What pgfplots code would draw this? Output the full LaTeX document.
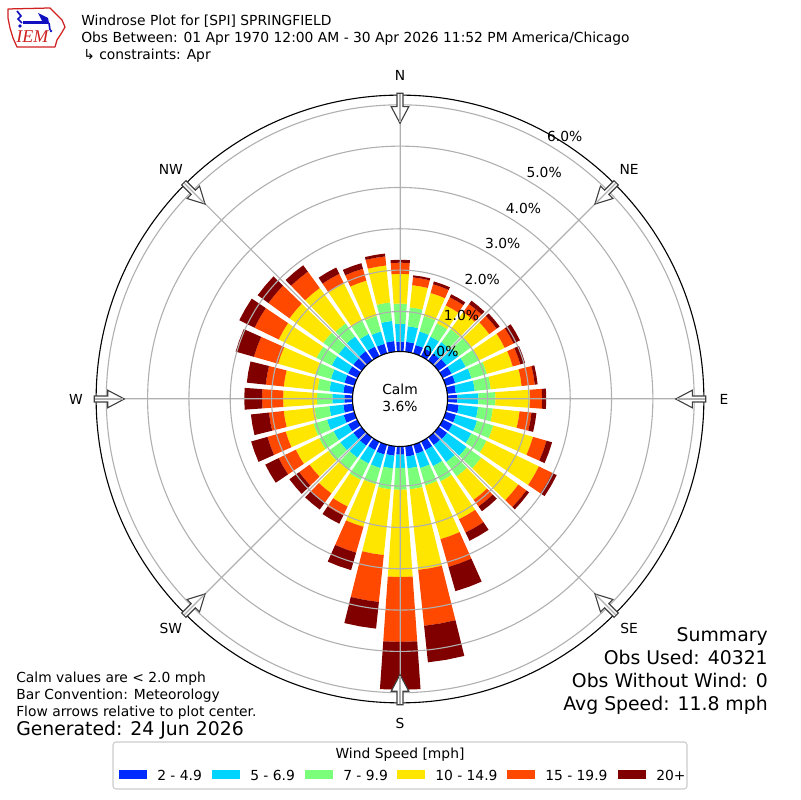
\documentclass[border=0pt]{standalone}
\usepackage{fontspec}
\setmainfont{DejaVu Sans}
\newfontfamily\logofont{Liberation Serif}
\usepackage{pgfplots}
\pgfplotsset{compat=1.18}
\usepgfplotslibrary{polar}
\usepackage{pgfplotstable}

\definecolor{cA}{rgb}{0,0.167,1}
\definecolor{cB}{rgb}{0,0.833,1}
\definecolor{cC}{rgb}{0.484,1,0.484}
\definecolor{cD}{rgb}{1,0.901,0}
\definecolor{cE}{rgb}{1,0.284,0}
\definecolor{cF}{rgb}{0.5,0,0}
\definecolor{gridgray}{HTML}{B0B0B0}
\definecolor{arrowgray}{HTML}{404040}
\definecolor{legendgray}{HTML}{CCCCCC}
\definecolor{logored}{HTML}{D02020}
\definecolor{logoblue}{HTML}{1010C0}

% cumulative percentages per direction (compass degrees)
\pgfplotstableread{
dir b c g y o d
0   0.27 0.70 1.19 1.91 2.18 2.25
10  0.27 0.65 1.11 1.65 1.84 1.89
20  0.24 0.58 0.97 1.55 1.77 1.84
30  0.24 0.56 0.92 1.40 1.62 1.70
40  0.24 0.58 0.97 1.48 1.72 1.82
50  0.27 0.63 1.02 1.55 1.77 1.86
60  0.27 0.65 1.02 1.70 1.94 2.11
70  0.27 0.68 1.07 1.72 1.91 2.03
80  0.24 0.70 1.09 1.84 2.16 2.23
90  0.27 0.78 1.19 2.03 2.32 2.42
100 0.31 0.78 1.14 1.79 2.08 2.20
110 0.29 0.82 1.23 2.23 2.57 2.71
120 0.29 0.80 1.21 2.62 2.98 3.10
130 0.29 0.87 1.31 2.42 2.66 2.74
140 0.27 0.78 1.21 1.91 2.11 2.25
150 0.27 0.70 1.11 2.13 2.49 2.71
160 0.27 0.63 1.07 2.42 3.12 3.73
170 0.29 0.58 1.09 3.05 4.41 5.30
180 0.24 0.56 1.09 3.20 4.77 5.93
190 0.27 0.58 1.09 2.69 3.83 4.48
200 0.29 0.63 1.04 2.11 2.76 3.20
210 0.27 0.63 1.07 1.79 2.03 2.25
220 0.29 0.65 1.02 1.72 1.99 2.20
230 0.29 0.68 1.04 1.60 1.91 2.20
240 0.29 0.68 1.07 1.70 2.16 2.52
250 0.31 0.73 1.07 1.77 2.23 2.64
260 0.27 0.61 0.97 1.72 2.08 2.52
270 0.24 0.53 0.90 1.72 2.23 2.66
280 0.27 0.61 0.90 1.72 2.16 2.62
290 0.29 0.63 1.02 1.96 2.57 3.03
300 0.29 0.73 1.14 2.16 2.81 3.22
310 0.29 0.73 1.19 2.20 2.83 3.15
320 0.31 0.75 1.14 2.20 2.69 2.88
330 0.29 0.63 0.99 1.99 2.25 2.42
340 0.27 0.58 0.97 1.86 2.16 2.30
350 0.29 0.78 1.23 2.13 2.35 2.42
}\winddata

\newcommand\roff{1.114}
\newcommand\windseg[3]{%
  \pgfmathsetmacro\rlo{#1+\roff}%
  \pgfmathsetmacro\rhi{#2+\roff}%
  \edef\tmp{\noexpand\addplot[draw=none,fill=#3,forget plot] coordinates {(\aL,\rlo) (\aM,\rlo) (\aR,\rlo) (\aR,\rhi) (\aM,\rhi) (\aL,\rhi)};}%
  \tmp}

\begin{document}
\begin{tikzpicture}[x=0.01in,y=0.01in]
\path[use as bounding box] (0,0) rectangle (800,800);

\begin{polaraxis}[
  at={(4in,4.01in)}, anchor=center,
  scale only axis, width=6.074in, height=6.074in,
  xmin=0, xmax=360, ymin=0, ymax=7.354,
  clip=false,
  xtick={0,45,...,315}, xticklabels={},
  ytick={2.114,3.114,4.114,5.114,6.114,7.114}, yticklabels={},
  major tick length=0pt,
  grid=major,
  major grid style={draw=gridgray, line width=0.8pt},
  axis line style={draw=none},
  axis on top,
]
\pgfplotstablegetrowsof{\winddata}
\pgfmathtruncatemacro\lastrow{\pgfplotsretval-1}
\pgfplotsforeachungrouped \i in {0,...,\lastrow}{%
  \pgfplotstablegetelem{\i}{dir}\of\winddata
  \pgfmathsetmacro\aM{90-\pgfplotsretval}%
  \pgfmathsetmacro\aL{\aM-4}%
  \pgfmathsetmacro\aR{\aM+4}%
  \pgfplotstablegetelem{\i}{b}\of\winddata \let\vb\pgfplotsretval
  \pgfplotstablegetelem{\i}{c}\of\winddata \let\vc\pgfplotsretval
  \pgfplotstablegetelem{\i}{g}\of\winddata \let\vg\pgfplotsretval
  \pgfplotstablegetelem{\i}{y}\of\winddata \let\vy\pgfplotsretval
  \pgfplotstablegetelem{\i}{o}\of\winddata \let\vo\pgfplotsretval
  \pgfplotstablegetelem{\i}{d}\of\winddata \let\vd\pgfplotsretval
  \windseg{0}{\vb}{cA}%
  \windseg{\vb}{\vc}{cB}%
  \windseg{\vc}{\vg}{cC}%
  \windseg{\vg}{\vy}{cD}%
  \windseg{\vy}{\vo}{cE}%
  \windseg{\vo}{\vd}{cF}%
}
\end{polaraxis}

\coordinate (c) at (400,401);
% outer circle
\draw[line width=0.8pt] (c) circle[radius=3.037in];
% calm circle
\draw[line width=0.8pt, fill=white] (c) circle[radius=0.475in];
\node[anchor=base, inner sep=0] at (400,405) {Calm};
\node[anchor=base, inner sep=0] at (400,388.5) {3.6\%};

% flow arrows
\foreach \t in {0,45,...,315}{
  \begin{scope}[shift={(c)}, rotate=-\t]
    \draw[arrowgray, fill=white, line width=0.8pt, line join=miter]
      (-3,305.7) -- (3,305.7) -- (3,292.3) -- (8.8,292.3) -- (0,275.7) -- (-8.8,292.3) -- (-3,292.3) -- cycle;
    \draw[gridgray, line width=0.8pt] (0,305) -- (0,277);
  \end{scope}
}

% radial labels
\foreach \k in {0,...,6}{
  \pgfmathsetmacro\rr{46+41.3*\k}
  \node[anchor=base west, inner sep=0, yshift=0.03in] at ([shift={(60:\rr)}]c) {\k.0\%};
}

% compass labels
\foreach \a/\lab in {90/N,45/NE,0/E,-45/SE,-90/S,-135/SW,180/W,135/NW}{
  \node[inner sep=0] at ([shift={(\a:324)}]c) {\lab};
}

% titles
\node[anchor=base west, inner sep=0] at (81,774.5) {Windrose Plot for [SPI] SPRINGFIELD};
\node[anchor=base west, inner sep=0] at (81,757.5) {Obs Between: 01 Apr 1970 12:00 AM - 30 Apr 2026 11:52 PM America/Chicago};
\node[anchor=base west, inner sep=0] at (83,740.5) {↳ constraints: Apr};

% logo
\draw[logored, line width=0.9pt, line join=round]
  (8,791) -- (50,792) -- (55,787) -- (62,780) -- (65,773) -- (61,766) -- (57,760) -- (55,753)
  -- (17,753) -- (13,762) -- (10,772) -- (8,782) -- cycle;
\draw[logoblue, line width=1.6pt] (23,777.5) -- (48,777.5);
\fill[logoblue] (38,787) -- (48,782) -- (49,777) -- (42,779) -- cycle;
\draw[logoblue, line width=1.2pt] (17,789) -- (21,784) -- (18,781) -- (22,777);
\fill[logoblue] (20,774) circle[radius=0.018in];
\draw[logoblue, line width=1.2pt] (49,777) -- (50,770);
\fill[logoblue] (51,769) circle[radius=0.014in];
\node[anchor=base west, inner sep=0, text=logored] at (16,757) {\logofont\itshape\fontsize{13}{15}\selectfont IEM};

% bottom-left notes
\node[anchor=base west, inner sep=0] at (16,117) {Calm values are < 2.0 mph};
\node[anchor=base west, inner sep=0] at (16,100) {Bar Convention: Meteorology};
\node[anchor=base west, inner sep=0] at (16,83) {Flow arrows relative to plot center.};
\node[anchor=base west, inner sep=0] at (16,64) {\fontsize{13.6}{16.3}\selectfont Generated: 24 Jun 2026};

% summary
\begin{scope}[every node/.style={anchor=base east, inner sep=0, font=\fontsize{13.6}{16.3}\selectfont}]
\node at (768,158) {Summary};
\node at (768,135) {Obs Used: 40321};
\node at (768,112) {Obs Without Wind: 0};
\node at (768,89) {Avg Speed: 11.8 mph};
\end{scope}

% legend
\draw[legendgray, line width=0.8pt, fill=white, rounded corners=0.03in] (113,11) rectangle (687,58);
\node[anchor=base, inner sep=0] at (400,41) {Wind Speed [mph]};
\foreach \x/\col/\lab in {119/cA/2 - 4.9, 212/cB/5 - 6.9, 305/cC/7 - 9.9, 397/cD/10 - 14.9, 507/cE/15 - 19.9, 618/cF/20+}{
  \fill[\col] (\x,20.5) rectangle ++(28,9.5);
  \node[anchor=base west, inner sep=0] at (\x+38,19.5) {\lab};
}
\end{tikzpicture}
\end{document}
